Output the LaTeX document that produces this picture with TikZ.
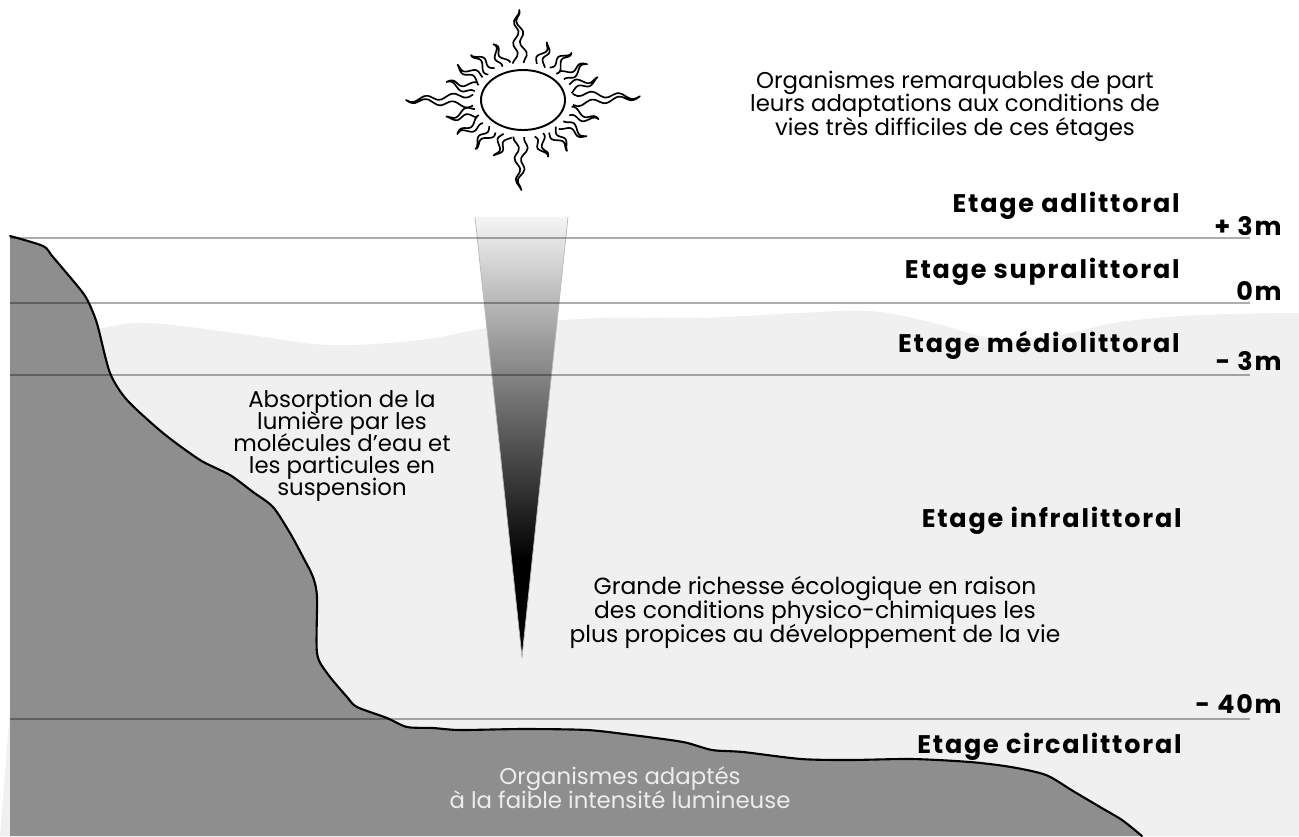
\documentclass[tikz,border=0pt]{standalone}
\usepackage{fontspec}
\setmainfont{Poppins}
\definecolor{roche}{HTML}{8E8E8E}
\definecolor{eau}{HTML}{F0F0F0}
% light beam, dark at the tip
\pgfdeclareverticalshading{lumiere}{100bp}{color(0bp)=(black); color(36bp)=(black); color(75bp)=(white!96!black); color(100bp)=(white!96!black)}
\tikzset{
  niveau/.style={black,opacity=0.32,line width=0.9pt},
  etg/.style={anchor=base east,inner sep=0pt,font=\bfseries\fontsize{14.5}{16}\selectfont\addfontfeature{LetterSpace=7}},
  prof/.style={anchor=base east,inner sep=0pt,font=\bfseries\fontsize{14.5}{16}\selectfont\addfontfeature{LetterSpace=7}},
  note/.style={align=center,inner sep=0pt,anchor=base,font=\fontsize{13}{13.3}\selectfont},
  rayon/.style={line width=0.95pt,line join=round},
  bord/.style={line width=1.2pt,line join=round,line cap=round}
}
\newcommand{\etage}[1]{Etage #1}
% sea floor profile, from the cliff top to the bottom edge
\newcommand{\falaise}{plot[smooth,tension=0.45] coordinates {(10,236) (43,246) (53,257) (83,293) (92,310) (98,327) (110,373) (127,400) (163,433) (200,460) (230,475) (253,492) (273,507) (290,533) (303,557) (313,577) (317,597) (317,653) (327,673) (347,697) (357,707) (387,718) (407,727) (433,728) (460,730) (523,729) (587,730) (632,735) (683,742) (712,750) (743,752) (801,759) (850,760) (912,759) (970,762) (1011,767) (1046,775) (1073,791) (1100,807) (1122,820) (1142,836)}}

\begin{document}
\lineskiplimit=-100pt
\begin{tikzpicture}[x=0.02cm,y=-0.02cm]
\useasboundingbox (0,0) rectangle (1299,836);
\fill[white] (0,0) rectangle (1299,836);
% water
\fill[eau] plot[smooth,tension=0.6] coordinates {(40,332) (100,328) (150,323) (250,335) (330,345) (420,340) (500,326) (600,318) (700,318) (800,313) (870,311) (930,322) (1000,340) (1060,335) (1120,322) (1200,315) (1299,313)} -- (1299,836) -- (0,836) -- cycle;
% light beam
\shade[shading=lumiere] (475,217) -- (568,217) -- (522,657) -- cycle;
\draw[gray!55,line width=0.4pt] (475,217) -- (522,657) -- (568,217);
% cliff and sea floor
\fill[roche] \falaise -- (10,836) -- cycle;
\draw[bord] \falaise;
% levels
\foreach \y in {238,303,375,719}
  \draw[niveau] (10,\y) -- (1250,\y);

\node[etg] (adlit) at (1180,212) {\etage{adlittoral}};
\node[etg] (supra) at (1180,278) {\etage{supralittoral}};
\node[etg] (medio) at (1180,352) {\etage{médiolittoral}};
\node[etg] (infra) at (1182,527) {\etage{infralittoral}};
\node[etg] (circa) at (1182,753) {\etage{circalittoral}};
\node[prof] (p3) at (1282,235) {+ 3m};
\node[prof] (p0) at (1282,300) {0m};
\node[prof] (m3) at (1282,370) {- 3m};
\node[prof] (m40) at (1282,713) {- 40m};

\node[note] (extremes) at (955,135) {Organismes remarquables de part\\leurs adaptations aux conditions de\\vies très difficiles de ces étages};
\node[note,font=\fontsize{13}{12.4}\selectfont] (absorb) at (342,495) {Absorption de la\\lumière par les\\molécules d'eau et\\les particules en\\suspension};
\node[note,font=\fontsize{13.3}{13.6}\selectfont] (richesse) at (815,642) {Grande richesse écologique en raison\\des conditions physico-chimiques les\\plus propices au développement de la vie};
\node[note,text=white!93!black] (adaptes) at (620,808) {Organismes adaptés\\à la faible intensité lumineuse};

% sun: wavy flames around an ellipse
\draw[line width=1.1pt] (523,100) ellipse [x radius=42, y radius=30];
\foreach \a/\lg in {2/1,20/0,37/0,54/0,71/0,93/1,112/0,129/0,146/0,163/0,180/1,198/0,215/0,232/0,250/0,268/1,287/0,305/0,322/0,340/0}{
  \pgfmathsetmacro\bx{523+50*cos(\a)}
  \pgfmathsetmacro\by{100-37*sin(\a)}
  \pgfmathsetmacro\dx{(30+37*\lg)*cos(\a)}
  \pgfmathsetmacro\dy{-(23+30*\lg)*sin(\a)}
  \pgfmathsetmacro\L{veclen(\dx,\dy)}
  \pgfmathsetmacro\k{1.3+1.2*\lg}
  \pgfmathsetmacro\h{4.5+1*\lg}
  \draw[rayon] plot[smooth,variable=\t,domain=0:1,samples=16]
      ({\bx+\t*\dx-(2.6*sin(360*\k*\t+7*\a)+\h*(1-\t))*\dy/\L},{\by+\t*\dy+(2.6*sin(360*\k*\t+7*\a)+\h*(1-\t))*\dx/\L})
    -- plot[smooth,variable=\t,domain=1:0,samples=16]
      ({\bx+\t*\dx-(2.6*sin(360*\k*\t+7*\a)-\h*(1-\t))*\dy/\L},{\by+\t*\dy+(2.6*sin(360*\k*\t+7*\a)-\h*(1-\t))*\dx/\L});
}
\end{tikzpicture}
\end{document}
